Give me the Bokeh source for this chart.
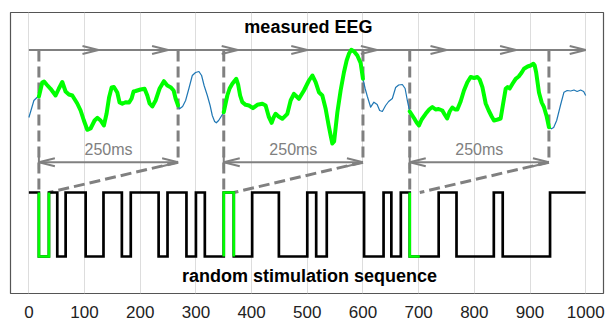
import numpy as np
from bokeh.plotting import figure
from bokeh.models import Range1d, FixedTicker
from bokeh.core.properties import value
from bokeh.embed import file_html
from bokeh.resources import INLINE

# ---------------- data ----------------
# measured EEG trace: time (ms) and amplitude (screen units, smaller = higher)
eeg_t = [0, 4.8, 9, 15, 18, 24, 27.3, 31.8, 39, 48, 53.9, 60, 65.9, 71.9, 78, 86.9, 92.9, 98.8,
         104.9, 110.8, 118, 122.9, 128.8, 134.7, 139.6, 144, 148.6, 152.7, 158.8, 162.9, 167.8,
         173.7, 180, 184.5, 188, 191.7, 200.6, 207.8, 212.7, 216.8, 221.7, 227.6, 234.8, 242.5,
         248.6, 254.5, 260, 263.5, 268, 270.7, 276.1, 281.5, 287.4, 293.5, 299.4, 305.4, 310.2,
         314.7, 320.5, 325.5, 329.4, 333.6, 336.6, 340.8, 345.3, 350, 356.4, 360.5, 365.4, 372.5,
         375.8, 379.4, 383.3, 389.3, 395.2, 402.4, 410.3, 419.3, 425.2, 431.1, 436, 439.5, 443.1,
         448.5, 455.2, 464.2, 470.1, 476, 480.9, 485, 494, 503, 509.1, 515, 520.9, 527, 533,
         538.4, 542, 545, 548.2, 554, 559.9, 565.8, 570.7, 574.8, 579.1, 584.1, 589.9, 595.8, 600,
         603.9, 607.9, 613.8, 619.7, 625.5, 630, 634.8, 640.7, 646.1, 652.8, 658.7, 664.1, 670.7,
         675.7, 679.7, 684, 691.6, 696.4, 700.6, 705.4, 712.6, 718.9, 724.6, 730.5, 735.9, 742.6,
         746.7, 751.2, 755.7, 760.5, 765.5, 769.5, 775.4, 781.4, 787.5, 793.4, 799.7, 805.5,
         809.6, 814.5, 820.4, 825.8, 831.2, 835.3, 841.9, 847.3, 851.8, 856.3, 859.9, 863.5,
         868.9, 874.3, 879.7, 885.1, 889.2, 895.8, 901.2, 906.1, 908.4, 911.1, 916.1, 921, 925.1,
         930, 934, 938.4, 942.5, 947.9, 955.1, 961, 966.8, 973.1, 979, 984.7, 991, 996.4, 1000]
eeg_v = [117, 108, 100, 96.7, 96, 82, 81, 84, 88.3, 95, 88, 81.5, 91, 94, 95, 103, 110, 120,
         129.3, 128, 120, 117.3, 120, 125, 113, 97, 87, 86.5, 92, 102, 103.3,
         101.7, 102, 98, 91, 90.5, 89, 88.3, 95, 103, 106, 100, 88, 80.7,
         85, 86.7, 90, 98, 105, 108.3, 106, 100, 88, 75, 72, 71, 75,
         85, 95, 105, 115, 121, 122.3, 120, 116, 111.7, 95, 88, 83.3, 78.3,
         84, 95, 101.7, 104.3, 105, 107.7, 104.3, 103.3, 105, 116.7, 122.3, 117, 113.3,
         116, 118.3, 113.3, 100, 93.3, 96, 98.3, 90, 80, 75, 81.7, 91.7, 95, 108.3,
         125, 135, 143, 141, 112, 90, 72, 60, 53.3, 49.3, 51, 55, 62.5, 78.3,
         88, 96, 106.7, 101.7, 104, 110, 111, 105, 101, 98, 87, 84.5, 84,
         88, 100, 111, 117.5, 122, 125, 119, 113.3, 109, 106.5, 109, 108.5, 110,
         114, 118, 111, 107, 109, 109, 101, 90, 81.7, 76.5, 77.5, 76.5,
         79, 86.7, 103, 110, 116, 120, 119, 118, 103, 88.3, 86.5, 88,
         83, 78.3, 76, 72, 68.3, 66, 65, 63.3, 65, 72, 92, 102, 106.7,
         116, 126.7, 128.3, 127, 120, 104, 91.7, 90, 90.5, 89.5, 91, 89.5, 91, 95]

# random stimulation sequence: change times (ms) and level after each change
stim_t = [0, 18, 36, 51, 66, 102, 134, 167, 183, 233, 249, 283, 300, 316, 350, 368, 401, 449,
          500, 516, 535, 602, 637, 651, 668, 684, 736, 768, 835, 851, 936]
stim_v = [1, 0, 1, 0, 1, 0, 1, 0, 1, 0, 1, 0, 1, 0, 1, 0, 1, 0,
          1, 0, 1, 0, 1, 0, 1, 0, 1, 0, 1, 0, 1]
stim_end = 1000

win_start = [18, 350, 684]   # ms
win_len = 250                # ms
stim_mark_len = 18           # ms
win_label = "250ms"

tick_vals = list(range(0, 1001, 100))
top_arrow_tips = [125, 250, 375, 500, 625, 750, 875, 1000]

# ---------------- layout / style ----------------
GRAY = "#808080"
FONT = value("Liberation Sans")
X0, X1 = -33, 1032
FW, FH = 593, 281
Y_TOP, Y_BOT = 12, 293          # reversed range: y is measured downward
xpp = (X1 - X0) / FW            # data units per pixel (x)
stim_hi, stim_lo = 192, 256
y_top_arrow = 49.5
y_win_arrow = 161.7
y_dash_top = 50

p = figure(frame_width=FW, frame_height=FH, x_range=Range1d(X0, X1),
           y_range=Range1d(Y_BOT, Y_TOP), toolbar_location=None,
           output_backend="svg", y_axis_location=None,
           min_border_left=10, min_border_right=3, min_border_top=12, min_border_bottom=0)
p.background_fill_color = "white"
p.border_fill_color = "white"
p.outline_line_color = "#555555"
p.outline_line_width = 1.2

p.xaxis.ticker = FixedTicker(ticks=tick_vals)
p.xaxis.axis_line_color = None
p.xaxis.major_tick_line_color = None
p.xaxis.minor_tick_line_color = None
p.xaxis.major_tick_out = 0
p.xaxis.major_tick_in = 0
p.xaxis.major_label_text_font = "Liberation Sans"
p.xaxis.major_label_text_font_size = "17px"
p.xaxis.major_label_text_color = "#222222"
p.xaxis.major_label_standoff = 12
p.xgrid.ticker = FixedTicker(ticks=tick_vals)
p.xgrid.grid_line_color = "#dddddd"
p.xgrid.grid_line_width = 1
p.ygrid.visible = False

# ---- top arrow chain ----
p.segment(x0=[0], y0=[y_top_arrow], x1=[stim_end], y1=[y_top_arrow], line_color=GRAY, line_width=2)
hl, hw = 16 * xpp, 4
tips = np.array(top_arrow_tips, dtype=float)
p.segment(x0=tips, y0=y_top_arrow, x1=tips - hl, y1=y_top_arrow - hw, line_color=GRAY, line_width=2)
p.segment(x0=tips, y0=y_top_arrow, x1=tips - hl, y1=y_top_arrow + hw, line_color=GRAY, line_width=2)

# ---- window annotations ----
ws = np.array(win_start, dtype=float)
we = ws + win_len
p.segment(x0=ws, y0=y_dash_top, x1=ws, y1=stim_hi, line_color=GRAY, line_width=3, line_dash="11 5")
p.segment(x0=we, y0=y_dash_top, x1=we, y1=y_win_arrow, line_color=GRAY, line_width=3, line_dash="11 5")
p.segment(x0=we, y0=y_win_arrow, x1=ws + stim_mark_len, y1=stim_hi, line_color=GRAY, line_width=3,
          line_dash="11 5")
p.segment(x0=ws, y0=y_win_arrow, x1=we, y1=y_win_arrow, line_color=GRAY, line_width=2)
for sgn in (-1, 1):
    p.segment(x0=ws, y0=y_win_arrow, x1=ws + hl, y1=y_win_arrow + sgn * hw, line_color=GRAY, line_width=2)
    p.segment(x0=we, y0=y_win_arrow, x1=we - hl, y1=y_win_arrow + sgn * hw, line_color=GRAY, line_width=2)
p.segment(x0=ws, y0=y_win_arrow - 6.5, x1=ws, y1=y_win_arrow + 6.5, line_color=GRAY, line_width=2)
p.text(x=ws + win_len / 2, y=[148.5] * len(ws), text=[win_label] * len(ws), text_font=FONT,
       text_font_size="16px", text_color=GRAY, text_align="center", text_baseline="alphabetic")

# ---- EEG ----
p.line(eeg_t, eeg_v, line_color="#1f77b4", line_width=1.2, line_join="round")
t = np.array(eeg_t)
v = np.array(eeg_v)
gx, gy = [], []
for s in win_start:
    m = (t >= s) & (t <= s + win_len)
    gx.append(list(t[m]))
    gy.append(list(v[m]))
p.multi_line(gx, gy, line_color="#00ff00", line_width=4, line_join="round", line_cap="round")

# ---- stimulation sequence (step path) ----
sx, sv = [stim_t[0]], [stim_v[0]]
for i in range(1, len(stim_t)):
    sx += [stim_t[i], stim_t[i]]
    sv += [stim_v[i - 1], stim_v[i]]
sx.append(stim_end)
sv.append(stim_v[-1])
sx = np.array(sx, dtype=float)
sy = stim_lo + np.array(sv, dtype=float) * (stim_hi - stim_lo)
p.line(sx, sy, line_color="black", line_width=2.7, line_join="miter")
gsx, gsy = [], []
for s in win_start:
    e = s + stim_mark_len
    m = (sx >= s) & (sx <= e)
    xx, yy = list(sx[m]), list(sy[m])
    if xx[-1] < e:
        xx.append(e)
        yy.append(yy[-1])
    gsx.append(xx)
    gsy.append(yy)
p.multi_line(gsx, gsy, line_color="#00ff00", line_width=2.7, line_join="miter")

# ---- titles ----
p.text(x=[502], y=[26], text=["measured EEG"], text_font=FONT, text_font_style="bold",
       text_font_size="18px", text_color="black", text_align="center", text_baseline="alphabetic")
p.text(x=[504], y=[275.5], text=["random stimulation sequence"], text_font=FONT,
       text_font_style="bold", text_font_size="18px", text_color="black", text_align="center",
       text_baseline="alphabetic")

open("out.html", "w").write(file_html(p, INLINE))
